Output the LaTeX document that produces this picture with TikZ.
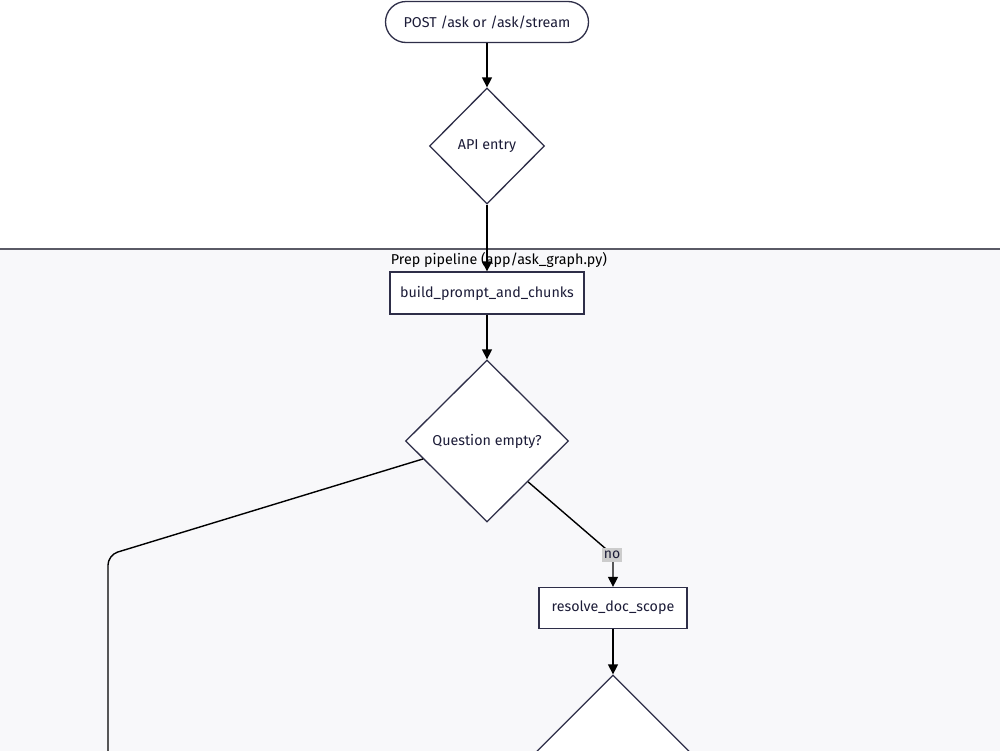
\documentclass[tikz,border=0pt]{standalone}
\usepackage{fontspec}
\setmainfont{Fira Sans}
\usetikzlibrary{shapes.geometric,arrows.meta,calc}
\definecolor{nodeline}{HTML}{2E2E48}
\definecolor{txt}{HTML}{1C1C38}
\definecolor{clusterbg}{HTML}{F8F8FA}
\definecolor{clusterline}{HTML}{5A5A66}
\definecolor{lblbg}{HTML}{CCCCCC}
\tikzset{
  x=1pt,y=-1pt,
  base/.style={draw=nodeline,line width=1.3pt,fill=white,text=txt,font=\fontsize{14.3}{17}\selectfont,inner sep=0pt},
  term/.style={base,rounded corners=20.5pt,minimum width=203pt,minimum height=41pt},
  proc/.style={base,minimum height=42pt},
  decide/.style={base,diamond},
  edge/.style={draw=black,line width=1.4pt,-{Triangle[length=10pt,width=10pt]}},
  plainedge/.style={draw=black,line width=1.4pt},
  elabel/.style={fill=lblbg,text=txt,font=\fontsize{14}{16}\selectfont,inner xsep=1.5pt,inner ysep=3pt}
}
\begin{document}
\begin{tikzpicture}
\useasboundingbox (0,0) rectangle (1000,750);
\clip (0,0) rectangle (1000,750);
\fill[white] (0,0) rectangle (1000,750);
% cluster
\fill[clusterbg] (-5,249) rectangle (1005,800);
\draw[clusterline,line width=1.3pt] (-5,249) -- (1005,249);
\node[text=black,font=\fontsize{14.3}{17}\selectfont] (clabel) at (499,260) {Prep pipeline (app/ask\_graph.py)};

\node[term] (post) at (487,22) {POST /ask or /ask/stream};
\node[decide,minimum width=115pt,minimum height=116pt] (api) at (487,146) {API entry};
\node[proc,minimum width=194pt] (build) at (487,293) {build\_prompt\_and\_chunks};
\node[decide,minimum width=163pt,minimum height=162pt] (qe) at (487,441) {Question empty?};
\node[proc,minimum width=148pt,minimum height=41pt] (resolve) at (613,608) {resolve\_doc\_scope};
\node[decide,minimum width=154pt,minimum height=154pt] (next) at (613,752) {};

\path[edge] (post) -- (api);
\path[edge] (api) -- (build);
\path[edge] (build) -- (qe);
\coordinate (noStart) at ($(qe.east)!0.5!(qe.south)$);
\coordinate (noBend) at (613,555);
\path[edge,rounded corners=6pt] (noStart) -- (noBend) -- (resolve.north);
\node[elabel] (nolbl) at (612,555) {no};
\path[edge] (resolve) -- (next);
\coordinate (yesStart) at ($(qe.west)!0.22!(qe.south)$);
\coordinate (yesBend) at (108,555);
\coordinate (yesEnd) at (108,780);
\path[plainedge,rounded corners=10pt] (yesStart) -- (yesBend) -- (yesEnd);
\end{tikzpicture}
\end{document}
